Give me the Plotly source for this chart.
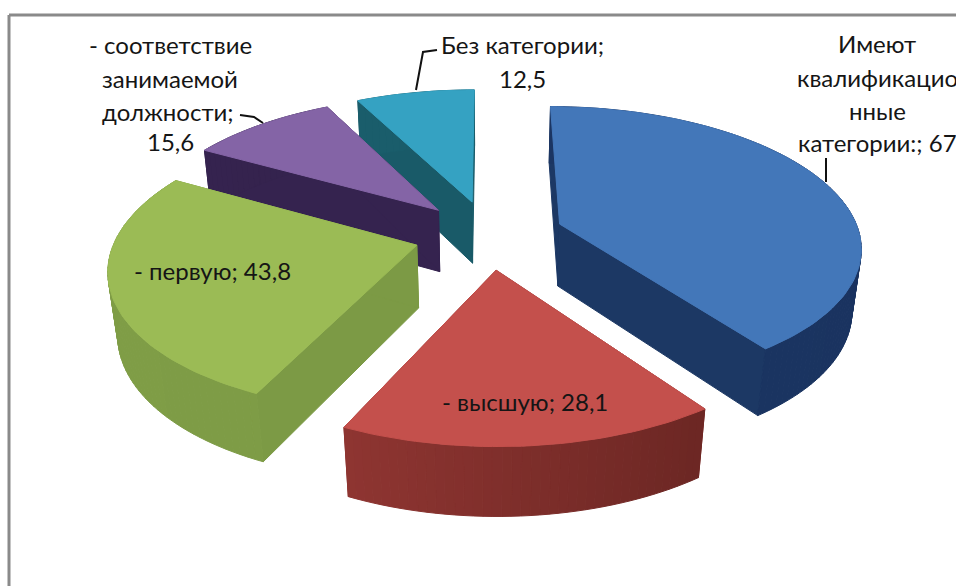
import math
import plotly.graph_objects as go

# ---- data
categories = ["Имеют квалификационные категории:", "- высшую", "- первую",
              "- соответствие занимаемой должности", "Без категории"]
values = [67, 28.1, 43.8, 15.6, 12.5]
value_labels = ["67", "28,1", "43,8", "15,6", "12,5"]

# ---- style
top_colors = ["#4377b9", "#c4504c", "#9bbb55", "#8464a6", "#35a2c2"]
wall_left = ["#1c3864", "#a23d39", "#7f9d46", "#35234f", "#1a5d6b"]
wall_right = ["#1a3360", "#5e211e", "#7b9945", "#32214a", "#1a5d6b"]
cut_colors = ["#1c3864", "#8a302d", "#7c9a45", "#35234f", "#195a68"]
draw_order = [4, 3, 0, 2, 1]

# ---- projection parameters
CX, CY = 489, 234.5
R, EXPLODE, H = 300, 75, 64
K, P, Q = 0.46, 0.0005, 0.0004


def project(X, Y, Z):
    w = 1 - P * Y + Q * Z
    return CX + X / w, CY + (K * Y + Z) / w


def mix(a, b, t):
    ca = [int(a[i:i + 2], 16) for i in (1, 3, 5)]
    cb = [int(b[i:i + 2], 16) for i in (1, 3, 5)]
    return "rgb(%d,%d,%d)" % tuple(round(p + (q - p) * t) for p, q in zip(ca, cb))


fig = go.Figure()


def poly(pts, color):
    xs, ys = zip(*pts)
    fig.add_trace(go.Scatter(x=list(xs) + [xs[0]], y=list(ys) + [ys[0]], mode="lines",
                             fill="toself", fillcolor=color, hoverinfo="skip",
                             line=dict(color=color, width=1), showlegend=False))


total = sum(values)
starts = []
acc = 0
for v in values:
    starts.append(acc)
    acc += v / total * 360

for i in draw_order:
    a0 = math.radians(starts[i])
    a1 = math.radians(starts[i] + values[i] / total * 360)
    mid = (a0 + a1) / 2
    ox, oy = EXPLODE * math.sin(mid), -EXPLODE * math.cos(mid)
    n = max(6, int((a1 - a0) / math.radians(1.5)))
    angs = [a0 + (a1 - a0) * j / n for j in range(n + 1)]
    rim = [(ox + R * math.sin(a), oy - R * math.cos(a)) for a in angs]
    # cut faces
    for e in (rim[0], rim[-1]):
        poly([project(ox, oy, 0), project(e[0], e[1], 0),
              project(e[0], e[1], H), project(ox, oy, H)], cut_colors[i])
    # curved wall, shaded from left to right
    for j in range(n):
        t = (math.sin((angs[j] + angs[j + 1]) / 2) + 1) / 2
        p, q = rim[j], rim[j + 1]
        poly([project(p[0], p[1], 0), project(q[0], q[1], 0),
              project(q[0], q[1], H), project(p[0], p[1], H)],
             mix(wall_left[i], wall_right[i], t))
    # top
    poly([project(ox, oy, 0)] + [project(x, y, 0) for x, y in rim], top_colors[i])

# ---- leader lines
leaders = [([826, 826], [158, 182]),
           ([437, 423, 416], [50, 52, 90]),
           ([240, 254, 263], [115, 117, 123])]
for lx, ly in leaders:
    fig.add_trace(go.Scatter(x=lx, y=ly, mode="lines", hoverinfo="skip", showlegend=False,
                             line=dict(color="#111111", width=2)))

# ---- label text, one entry per line
label_lines = [
    ("Имеют", 877, 43), ("квалификацио", 877, 77), ("нные", 877, 110),
    ("категории:; " + value_labels[0], 877, 142),
    ("- соответствие", 170, 44), ("занимаемой", 170, 78), ("должности;", 168, 111),
    (value_labels[3], 170, 141),
    ("Без категории;", 522, 44), (value_labels[4], 522, 78),
    ("- первую; " + value_labels[2], 212, 270),
    ("- высшую; " + value_labels[1], 525, 401),
]
annotations = [dict(x=x, y=y, text=t, showarrow=False, xanchor="center", yanchor="middle",
                    font=dict(family="Lato, Carlito, Open Sans", size=24, color="#151515"))
               for t, x, y in label_lines]

frame = [dict(type="line", x0=9, x1=956, y0=15, y1=15, line=dict(color="#8a8a8a", width=3)),
         dict(type="line", x0=9, x1=9, y0=15, y1=586, line=dict(color="#8a8a8a", width=3))]

fig.update_layout(width=956, height=586, margin=dict(l=0, r=0, t=0, b=0),
                  paper_bgcolor="white", plot_bgcolor="white", showlegend=False,
                  xaxis=dict(range=[0, 956], visible=False, fixedrange=True),
                  yaxis=dict(range=[586, 0], visible=False, fixedrange=True),
                  annotations=annotations, shapes=frame)

fig.write_html("out.html", config={"displayModeBar": False},
               post_script="document.body.style.margin='0';document.body.style.overflow='hidden';")
